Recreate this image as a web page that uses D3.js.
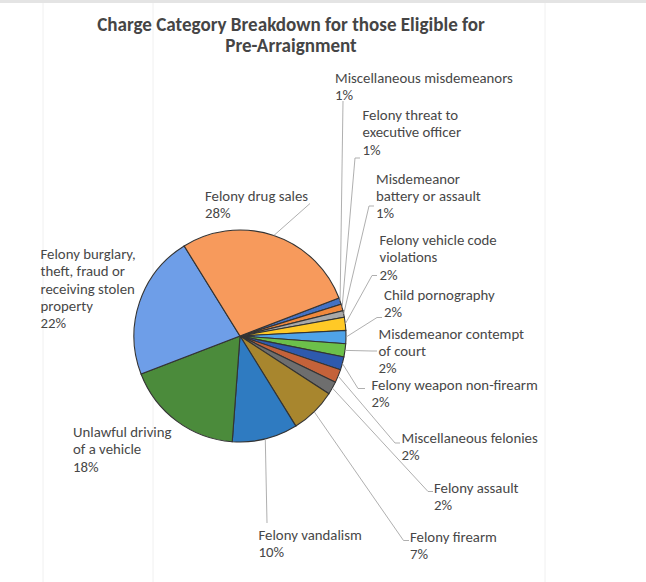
<!DOCTYPE html>
<html>
<head>
<meta charset="utf-8">
<script src="https://cdn.jsdelivr.net/npm/d3@7"></script>
<style>
  body { margin: 0; background: #fff; }
  text { font-family: Carlito, Lato, "Open Sans", sans-serif; fill: #474747; }
</style>
</head>
<body>
<svg id="chart" width="646" height="582"></svg>
<script>
// slice order as Excel draws it, clockwise from the first slice angle
const categories = [
  "Miscellaneous misdemeanors",
  "Felony threat to executive officer",
  "Misdemeanor battery or assault",
  "Felony vehicle code violations",
  "Child pornography",
  "Misdemeanor contempt of court",
  "Felony weapon non-firearm",
  "Miscellaneous felonies",
  "Felony assault",
  "Felony firearm",
  "Felony vandalism",
  "Unlawful driving of a vehicle",
  "Felony burglary, theft, fraud or receiving stolen property",
  "Felony drug sales"
]
const values = [1, 1, 1, 2, 2, 2, 2, 2, 2, 7, 10, 18, 22, 28]
// wrapped label text, as on the chart
const labelLines = [
  ["Miscellaneous misdemeanors"],
  ["Felony threat to", "executive officer"],
  ["Misdemeanor", "battery or assault"],
  ["Felony vehicle code", "violations"],
  ["Child pornography"],
  ["Misdemeanor contempt", "of court"],
  ["Felony weapon non-firearm"],
  ["Miscellaneous felonies"],
  ["Felony assault"],
  ["Felony firearm"],
  ["Felony vandalism"],
  ["Unlawful driving", "of a vehicle"],
  ["Felony burglary,", "theft, fraud or", "receiving stolen", "property"],
  ["Felony drug sales"]
]
const titleLines = ["Charge Category Breakdown for those Eligible for", "Pre-Arraignment"]

const colors = ["#4472c4", "#f0883c", "#a8a8a8", "#ffc926", "#4fa3e8", "#6cc04a",
                "#2e5aae", "#c4623a", "#6e6e6e", "#a8862e", "#2f7bc1", "#4b8b3b",
                "#6e9ee8", "#f79a5c"]

// label placement: x, first baseline y, leader end point, tick end x
const layout = [
  {x: 335,   y: 82.5,  end: [343, 101]},
  {x: 362.5, y: 120,   end: [355, 158],   tick: 360},
  {x: 376,   y: 183.5, end: [369, 206],   tick: 374},
  {x: 379.5, y: 245,   end: [372, 275.5], tick: 377},
  {x: 384,   y: 300,   end: [377, 317.5], tick: 382},
  {x: 378.5, y: 338.5, end: [372, 351],   tick: 377},
  {x: 371.5, y: 389.5, end: [358, 388.5], tick: 365},
  {x: 401.5, y: 443,   end: [395, 443],   tick: 400},
  {x: 434,   y: 493,   end: [428, 491.5], tick: 433},
  {x: 410,   y: 541.5, end: [403.5, 540.5], tick: 409},
  {x: 258.5, y: 540,   end: [267, 523]},
  {x: 73,    y: 437},
  {x: 40.5,  y: 259},
  {x: 205,   y: 200.5, end: [310, 203.5]}
]

const W = 646, H = 582
const cx = 240, cy = 336, r = 106
const lineH = 17.3
const startAngle = 69 * Math.PI / 180

const svg = d3.select("#chart")

// faint scan marks of the page
svg.append("rect").attr("x", 0).attr("y", 0).attr("width", W).attr("height", 3)
  .attr("fill", "#e4e4e4")
svg.selectAll("line.fold").data([43, 153, 545]).enter().append("line")
  .attr("class", "fold")
  .attr("x1", d => d).attr("x2", d => d).attr("y1", 3).attr("y2", H)
  .attr("stroke", "#f0f0f0").attr("stroke-width", 1)

// title, fitted to the width it has on the page
const title = svg.append("g")
title.selectAll("text").data(titleLines).enter().append("text")
  .attr("x", 291).attr("y", (d, i) => 31 + i * 21)
  .attr("text-anchor", "middle")
  .style("font-weight", "bold").style("font-size", "16px").style("fill", "#454545")
  .text(d => d)
const tw = title.select("text").node().getComputedTextLength()
title.selectAll("text").style("font-size", (16 * 388 / tw) + "px")

const total = d3.sum(values)
const pct = d3.format(".0%")

const pie = d3.pie().sort(null).value(d => d)
  .startAngle(startAngle).endAngle(startAngle + 2 * Math.PI)
const arcs = pie(values)
const arc = d3.arc().innerRadius(0).outerRadius(r)
const edge = d3.arc().innerRadius(r).outerRadius(r)

const g = svg.append("g").attr("transform", `translate(${cx},${cy})`)

// leader lines
const leaders = svg.append("g")
arcs.forEach((a, i) => {
  const L = layout[i]
  if (!L.end) return
  const p = edge.centroid(a)
  const pts = [[cx + p[0], cy + p[1]], L.end]
  if (L.tick) pts.push([L.tick, L.end[1]])
  leaders.append("path")
    .attr("d", d3.line()(pts))
    .attr("fill", "none").attr("stroke", "#a6a6a6").attr("stroke-width", 0.9)
})

g.selectAll("path.slice").data(arcs).enter().append("path")
  .attr("class", "slice")
  .attr("d", arc)
  .attr("fill", (d, i) => colors[i])
  .attr("stroke", "#333").attr("stroke-width", 1.1)

// data labels
const labels = svg.append("g").style("font-size", "13.5px")
arcs.forEach((a, i) => {
  const L = layout[i]
  const lines = labelLines[i].concat([pct(values[i] / total)])
  const t = labels.append("text").attr("x", L.x).attr("y", L.y)
  t.selectAll("tspan").data(lines).enter().append("tspan")
    .attr("x", L.x).attr("y", (d, k) => L.y + k * lineH)
    .text(d => d)
})
// fit the label font to the page width of one known label
const ref = labels.select("text tspan").node().getComputedTextLength()
labels.style("font-size", (13.5 * 178 / ref) + "px")
</script>
</body>
</html>
